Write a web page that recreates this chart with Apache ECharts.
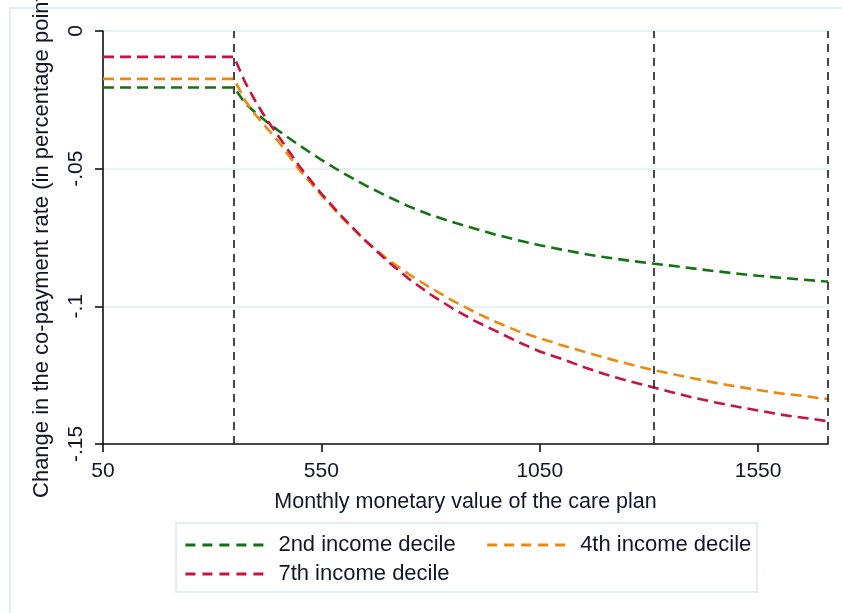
<!DOCTYPE html>
<html>
<head>
<meta charset="utf-8">
<script src="https://cdn.jsdelivr.net/npm/echarts@6/dist/echarts.min.js"></script>
<style>
  html, body { margin: 0; padding: 0; background: #fff; }
  #copayChart { width: 842px; height: 613px; }
</style>
</head>
<body>
<div id="copayChart"></div>
<script>
// monthly value of the care plan (x) and change in the co-payment rate per decile
var planValues = [50, 350, 375, 400, 425, 450, 500, 550, 600, 650, 700, 750, 800, 850, 900, 950,
  1000, 1050, 1100, 1150, 1200, 1250, 1300, 1350, 1400, 1450, 1500, 1550, 1600, 1650, 1700, 1710]

var decile2 = [-0.0205, -0.0205, -0.0262, -0.0298, -0.0330, -0.0360, -0.0416, -0.0468, -0.0516, -0.0560,
  -0.0600, -0.0637, -0.0668, -0.0694, -0.0717, -0.0740, -0.0760, -0.0778, -0.0794, -0.0809, -0.0822,
  -0.0833, -0.0843, -0.0852, -0.0862, -0.0872, -0.0881, -0.0889, -0.0896, -0.0903, -0.0909, -0.0910]

var decile4 = [-0.0174, -0.0174, -0.0252, -0.0306, -0.0352, -0.0398, -0.0505, -0.0596, -0.0683, -0.0761,
  -0.0827, -0.0883, -0.0933, -0.0979, -0.1020, -0.1057, -0.1090, -0.1116, -0.1141, -0.1164, -0.1187,
  -0.1208, -0.1228, -0.1245, -0.1261, -0.1277, -0.1291, -0.1304, -0.1316, -0.1325, -0.1335, -0.1336]

var decile7 = [-0.0094, -0.0094, -0.0185, -0.0258, -0.0322, -0.0378, -0.0492, -0.0591, -0.0679, -0.0760,
  -0.0834, -0.0900, -0.0957, -0.1007, -0.1052, -0.1090, -0.1129, -0.1164, -0.1191, -0.1220, -0.1247,
  -0.1270, -0.1290, -0.1311, -0.1331, -0.1348, -0.1364, -0.1378, -0.1393, -0.1404, -0.1415, -0.1416]

var seriesNames = ['2nd income decile', '4th income decile', '7th income decile']
var xTicks = [50, 550, 1050, 1550]
var cutoffs = [350, 1311, 1710]

var fontFamily = '"Liberation Sans", Arial, sans-serif'
var textColor = '#15152a'
var frameColor = '#e3ecef'

function pairs (ys) {
  return planValues.map(function (x, i) { return [x, ys[i]] })
}

function lineSeries (name, ys, color) {
  return {
    name: name,
    type: 'line',
    symbol: 'none',
    data: pairs(ys),
    lineStyle: { color: color, width: 2.6, type: [11, 6] },
    itemStyle: { color: color },
    z: 3
  }
}

var chart = echarts.init(document.getElementById('copayChart'))

var series = [
  lineSeries(seriesNames[0], decile2, '#137313'),
  lineSeries(seriesNames[1], decile4, '#ec8a10'),
  lineSeries(seriesNames[2], decile7, '#c9123f')
]

// vertical dashed reference lines
series[0].markLine = {
  silent: true,
  symbol: 'none',
  label: { show: false },
  lineStyle: { color: '#1a1a1a', type: [8, 6], width: 1.6 },
  data: cutoffs.map(function (v) { return { xAxis: v } })
}

var legendText = { color: textColor, fontSize: 22, fontFamily: fontFamily, padding: [0, 0, 0, 7] }
var legendBase = {
  left: 184,
  padding: 0,
  itemWidth: 81,
  itemHeight: 14,
  itemStyle: { opacity: 0 },
  lineStyle: { width: 2.8, type: [10, 7] },
  textStyle: legendText
}

var options = {
  animation: false,
  backgroundColor: '#fff',
  graphic: [
    { type: 'rect', shape: { x: 10, y: 8, width: 900, height: 700 }, style: { fill: 'none', stroke: frameColor, lineWidth: 2 }, silent: true },
    { type: 'rect', shape: { x: 176, y: 523, width: 581, height: 69 }, style: { fill: 'none', stroke: frameColor, lineWidth: 2 }, silent: true }
  ],
  grid: {
    left: 103,
    top: 31,
    right: 14,
    bottom: 169,
    outerBoundsMode: 'none',
    containLabel: false,
    show: true,
    borderColor: '#e6eef1',
    borderWidth: 1
  },
  legend: [
    Object.assign({}, legendBase, { data: seriesNames.slice(0, 2), top: 534, itemGap: 30 }),
    Object.assign({}, legendBase, { data: seriesNames.slice(2), top: 563 })
  ],
  xAxis: {
    type: 'value',
    min: 50,
    max: 1710,
    name: 'Monthly monetary value of the care plan',
    nameLocation: 'middle',
    nameGap: 47,
    nameTextStyle: { color: textColor, fontSize: 21.5, fontFamily: fontFamily },
    axisLine: { onZero: false, lineStyle: { color: '#111', width: 1.6 } },
    axisTick: { customValues: xTicks, length: 8, lineStyle: { color: '#111', width: 1.6 } },
    axisLabel: {
      customValues: xTicks,
      margin: 17,
      color: textColor,
      fontSize: 21,
      fontFamily: fontFamily,
      formatter: function (v) { return String(v) }
    },
    splitLine: { show: false }
  },
  yAxis: {
    type: 'value',
    min: -0.15,
    max: 0,
    interval: 0.05,
    name: 'Change in the co-payment rate (in percentage points)',
    nameLocation: 'middle',
    nameGap: 50,
    nameTextStyle: { color: textColor, fontSize: 22, fontFamily: fontFamily },
    axisLine: { show: true, onZero: false, lineStyle: { color: '#111', width: 1.6 } },
    axisTick: { show: true, length: 8, lineStyle: { color: '#111', width: 1.6 } },
    axisLabel: {
      rotate: 90,
      margin: 16,
      color: textColor,
      fontSize: 21,
      fontFamily: fontFamily,
      formatter: function (v) {
        if (Math.abs(v) < 1e-9) return '0'
        return '-' + String(parseFloat(Math.abs(v).toFixed(2))).replace(/^0/, '')
      }
    },
    splitLine: { show: true, lineStyle: { color: '#e6eef1', width: 1.5 } }
  },
  series: series
}

chart.setOption(options)
</script>
</body>
</html>
